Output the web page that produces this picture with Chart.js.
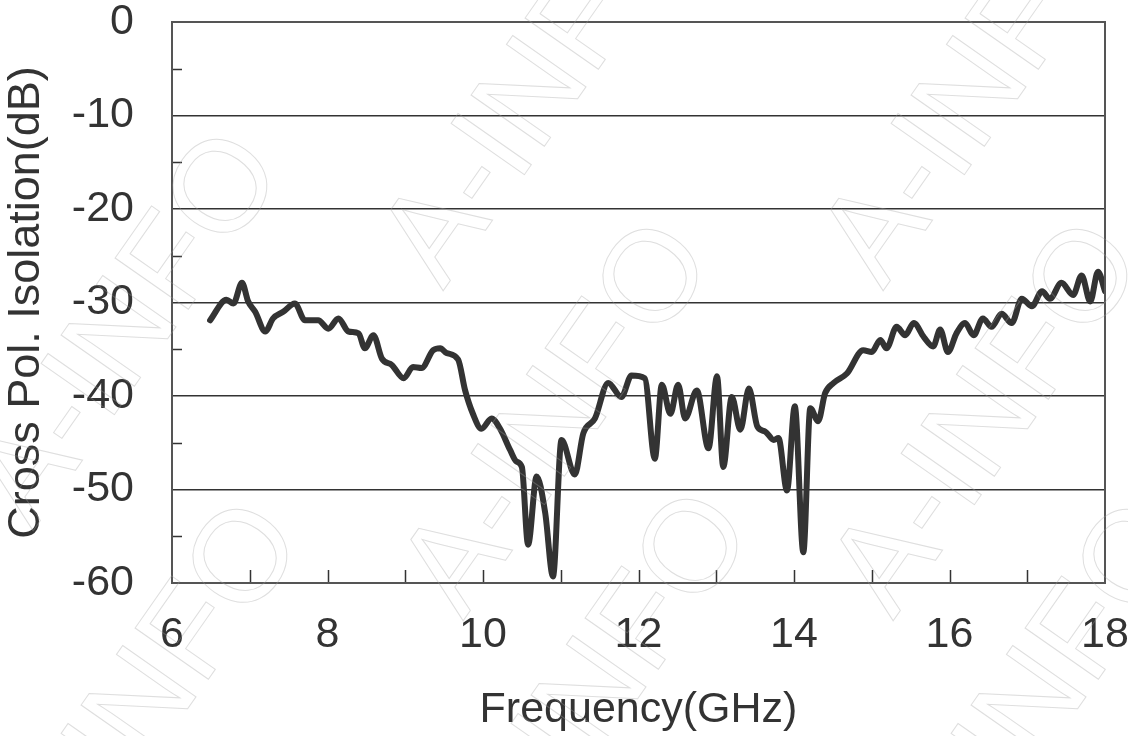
<!DOCTYPE html>
<html>
<head>
<meta charset="utf-8">
<script src="https://cdn.jsdelivr.net/npm/chart.js@4"></script>
<style>
html,body{margin:0;padding:0;background:#fff;}
#wrap{width:1128px;height:736px;position:relative;}
</style>
</head>
<body>
<div id="wrap"><canvas id="c" width="1128" height="736"></canvas></div>
<script>
const frequencyGHz = [6.49,6.70,6.79,6.90,6.98,7.07,7.20,7.30,7.43,7.58,7.71,7.88,8.01,8.14,8.27,8.40,8.48,8.59,8.70,8.83,8.98,9.10,9.21,9.36,9.45,9.53,9.68,9.77,9.87,9.98,10.11,10.22,10.35,10.43,10.50,10.58,10.69,10.80,10.90,11.01,11.18,11.29,11.44,11.61,11.78,11.91,12.08,12.21,12.30,12.41,12.51,12.60,12.75,12.90,13.01,13.09,13.20,13.31,13.42,13.53,13.63,13.74,13.80,13.91,14.01,14.12,14.21,14.31,14.40,14.51,14.68,14.89,15.00,15.11,15.19,15.32,15.43,15.54,15.67,15.79,15.88,15.98,16.09,16.20,16.31,16.43,16.54,16.67,16.80,16.93,17.06,17.19,17.29,17.44,17.59,17.70,17.81,17.91,18.00];
const isolationDB = [-31.9,-29.7,-30.1,-27.9,-29.9,-31.0,-33.1,-31.7,-31.0,-30.1,-31.9,-31.9,-32.8,-31.7,-33.1,-33.3,-34.9,-33.5,-36.0,-36.7,-38.1,-36.9,-37.0,-35.1,-34.9,-35.4,-36.1,-39.4,-41.9,-43.5,-42.4,-43.5,-45.8,-47.0,-47.6,-55.9,-48.6,-52.5,-59.3,-44.7,-48.4,-44.0,-42.4,-38.6,-40.1,-37.8,-38.1,-46.7,-38.8,-41.9,-38.8,-42.4,-39.4,-45.6,-37.9,-47.6,-40.1,-43.6,-39.2,-43.3,-43.8,-44.7,-44.5,-50.1,-41.1,-56.7,-41.3,-42.7,-39.7,-38.6,-37.6,-35.1,-35.3,-34.0,-34.9,-32.6,-33.5,-32.2,-33.7,-34.7,-32.9,-35.3,-33.3,-32.2,-33.5,-31.7,-32.6,-31.2,-32.2,-29.6,-30.4,-28.8,-29.6,-27.9,-29.2,-27.1,-29.9,-26.7,-28.8];
const xTickLabels = [6,8,10,12,14,16,18];
const yTickLabels = [0,-10,-20,-30,-40,-50,-60];

const INK = '#333333';
const FONT = '"Liberation Sans", Arial, sans-serif';

const points = frequencyGHz.map((f,i)=>({x:f,y:isolationDB[i]}));

const innerTicks = {
  id:'innerTicks',
  afterDatasetsDraw(chart){
    const {ctx, chartArea:a, scales:{x,y}} = chart;
    ctx.save();
    ctx.strokeStyle = INK;
    ctx.lineWidth = 1.5;
    ctx.beginPath();
    for(let v=7; v<18; v++){
      const px = Math.round(x.getPixelForValue(v))+0.5;
      ctx.moveTo(px,a.bottom); ctx.lineTo(px,a.bottom-13);
    }
    for(let v=-55; v<0; v+=10){
      const py = Math.round(y.getPixelForValue(v))+0.5;
      ctx.moveTo(a.left,py); ctx.lineTo(a.left+10,py);
    }
    ctx.stroke();
    ctx.strokeStyle = '#555';
    ctx.lineWidth = 2;
    ctx.strokeRect(a.left, a.top, a.right-a.left, a.bottom-a.top);
    ctx.restore();
  }
};

const watermark = {
  id:'watermark',
  afterDraw(chart){
    const ctx = chart.ctx;
    const spots = [[130,330],[540,90],[980,90],[560,420],[990,420],[150,700],[600,690],[1040,700]];
    ctx.save();
    ctx.strokeStyle = 'rgba(160,160,160,0.35)';
    ctx.lineWidth = 1;
    ctx.font = '130px ' + FONT;
    ctx.textAlign = 'center';
    ctx.textBaseline = 'middle';
    spots.forEach(([cx,cy])=>{
      ctx.save();
      ctx.translate(cx,cy);
      ctx.rotate(-55*Math.PI/180);
      ctx.strokeText('A-INFO',0,0);
      ctx.restore();
    });
    ctx.restore();
  }
};

new Chart(document.getElementById('c'),{
  type:'line',
  data:{datasets:[{
    data:points,
    borderColor:INK,
    borderWidth:6,
    pointRadius:0,
    fill:false,
    cubicInterpolationMode:'monotone',
    borderJoinStyle:'round',
    borderCapStyle:'round'
  }]},
  options:{
    responsive:false,
    animation:false,
    devicePixelRatio:1,
    layout:{padding:{top:22,right:23,left:0,bottom:0}},
    plugins:{legend:{display:false},tooltip:{enabled:false}},
    scales:{
      x:{
        type:'linear',min:6,max:18,
        afterFit(s){s.height=153;s.paddingLeft=0;s.paddingRight=0;},
        ticks:{stepSize:2,color:INK,font:{family:FONT,size:43},padding:26,maxRotation:0,
          callback:(v)=>xTickLabels.includes(v)?String(v):''},
        grid:{display:false,drawTicks:false},
        border:{display:true,color:INK,width:2},
        title:{display:true,text:'Frequency(GHz)',color:INK,font:{family:FONT,size:43},padding:{top:0,bottom:0}}
      },
      y:{
        min:-60,max:0,
        afterFit(s){s.width=172;s.paddingTop=0;s.paddingBottom=0;},
        ticks:{stepSize:10,color:INK,font:{family:FONT,size:43},padding:38,
          callback:(v)=>yTickLabels.includes(v)?String(v):''},
        grid:{drawTicks:false,color:(c)=> (c.tick && c.tick.value>-60 && c.tick.value<0)?INK:'rgba(0,0,0,0)',lineWidth:1.5},
        border:{display:true,color:INK,width:2},
        title:{display:true,text:'Cross Pol. Isolation(dB)',color:INK,font:{family:FONT,size:45},padding:{top:0,bottom:0}}
      }
    }
  },
  plugins:[innerTicks,watermark]
});
</script>
</body>
</html>
